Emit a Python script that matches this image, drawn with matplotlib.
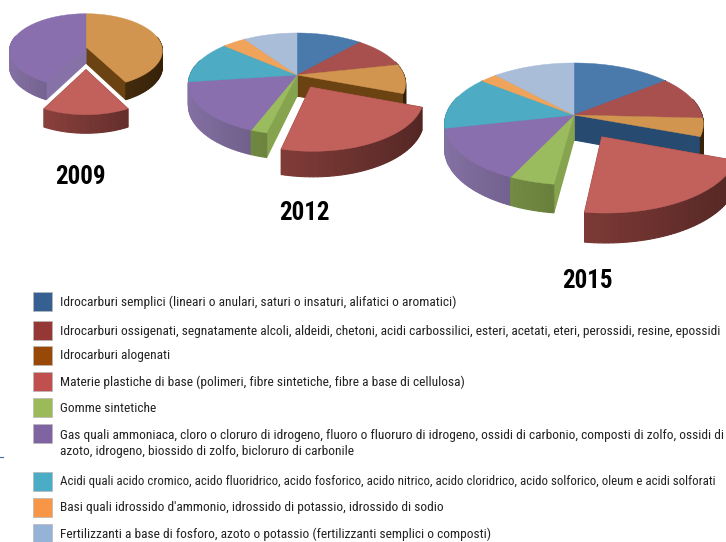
# Shares of chemical groups by year, drawn as three exploded 3D pies with a legend below
import numpy as np
import matplotlib
matplotlib.use('Agg')
import matplotlib.pyplot as plt
from matplotlib.patches import Polygon, Rectangle

plt.rcParams['font.family'] = ['Roboto Condensed', 'Liberation Sans', 'DejaVu Sans']

# Percent shares, same order as the legend
shares_2009 = [0, 0, 42, 16, 0, 42, 0, 0, 0]
shares_2012 = [11.8, 9.9, 8.9, 23.3, 2.1, 16.9, 13.2, 4.2, 9.7]
shares_2015 = [14.4, 11.4, 4.7, 21.7, 5.0, 14.4, 13.9, 2.5, 12.0]

years = ['2009', '2012', '2015']

labels = [
    'Idrocarburi semplici (lineari o anulari, saturi o insaturi, alifatici o aromatici)',
    'Idrocarburi ossigenati, segnatamente alcoli, aldeidi, chetoni, acidi carbossilici, esteri, acetati, eteri, perossidi, resine, epossidi',
    'Idrocarburi alogenati',
    'Materie plastiche di base (polimeri, fibre sintetiche, fibre a base di cellulosa)',
    'Gomme sintetiche',
    'Gas quali ammoniaca, cloro o cloruro di idrogeno, fluoro o fluoruro di idrogeno, ossidi di carbonio, composti di zolfo, ossidi di\nazoto, idrogeno, biossido di zolfo, bicloruro di carbonile',
    'Acidi quali acido cromico, acido fluoridrico, acido fosforico, acido nitrico, acido cloridrico, acido solforico, oleum e acidi solforati',
    "Basi quali idrossido d'ammonio, idrossido di potassio, idrossido di sodio",
    'Fertilizzanti a base di fosforo, azoto o potassio (fertilizzanti semplici o composti)',
]

legend_colors = ['#376092', '#953735', '#984807', '#c0504d', '#9bbb59', '#8064a2', '#4bacc6', '#f79646', '#95b3d7']
top_colors = ['#4a7aab', '#a8504e', '#d2954f', '#c2615c', '#9bbb5f', '#8a6fae', '#4dabc3', '#f0a35a', '#a9bcd8']
side_colors = ['#3a5f88', '#843c3a', '#6b4312', '#a04a45', '#86a34e', '#8672a6', '#3d8fa5', '#c07f3c', '#8496b0']

fig = plt.figure(figsize=(7.26, 5.42), dpi=100)
ax = fig.add_axes([0, 0, 1, 1])
ax.set_xlim(0, 726)
ax.set_ylim(542, 0)
ax.axis('off')


def shade(color, amount):
    rgb = np.array(matplotlib.colors.to_rgb(color))
    return tuple(rgb * amount)


def draw_pie(shares, cx, cy, rx, ry, k, depth, explode, hole_wall=None):
    # k tilts the disc so the front looks bigger than the back
    def project(u, v, drop=0.0):
        scale = 1 + k * v
        return cx + rx * u * scale, cy + ry * v * scale + drop * scale

    fractions = np.array(shares) / sum(shares)
    edges = np.concatenate([[0], np.cumsum(fractions)]) * 2 * np.pi
    base = []
    popped = []
    for i, frac in enumerate(fractions):
        if frac == 0:
            continue
        (popped if i == 3 else base).append((i, edges[i], edges[i + 1]))

    for group, off in ((base, 0.0), (popped, explode)):
        walls = []
        tops = []
        for i, a0, a1 in group:
            mid = (a0 + a1) / 2
            du = off * np.sin(mid)
            dv = -off * np.cos(mid)
            angles = np.linspace(a0, a1, max(int((a1 - a0) / 0.03), 2))
            us = du + np.sin(angles)
            vs = dv - np.cos(angles)

            # rim wall, darker towards the right side
            for j in range(len(angles) - 1):
                if -np.cos(angles[j]) < -0.3:
                    continue
                quad = [project(us[j], vs[j]), project(us[j + 1], vs[j + 1]),
                        project(us[j + 1], vs[j + 1], depth), project(us[j], vs[j], depth)]
                amount = 1.0 - 0.5 * (np.sin(angles[j]) + 1) / 2
                color = shade(side_colors[i], amount)
                walls.append((vs[j], quad, color))

            # flat walls along the two straight cuts
            wall_color = side_colors[i] if hole_wall is None or i != 2 else hole_wall
            for a in (a0, a1):
                eu = du + np.sin(a)
                ev = dv - np.cos(a)
                quad = [project(du, dv), project(eu, ev), project(eu, ev, depth), project(du, dv, depth)]
                walls.append(((dv + ev) / 2, quad, wall_color))

            outline = [project(du, dv)] + [project(p, q) for p, q in zip(us, vs)]
            tops.append((outline, top_colors[i]))

        walls.sort(key=lambda w: w[0])
        for _, quad, color in walls:
            ax.add_patch(Polygon(quad, closed=True, facecolor=color, edgecolor=color, linewidth=0.8))
        for outline, color in tops:
            ax.add_patch(Polygon(outline, closed=True, facecolor=color, edgecolor=color, linewidth=0.3))


draw_pie(shares_2009, 86, 47, 76, 37, 0.10, 16, 0.58)
draw_pie(shares_2012, 297, 75, 107, 51, 0.176, 21, 0.26)
draw_pie(shares_2015, 574, 115, 128, 61, 0.147, 25, 0.40, hole_wall='#264a70')

# Year captions
ax.text(80, 177, years[0], fontsize=18, fontweight='bold', ha='center', va='center')
ax.text(304, 213, years[1], fontsize=18, fontweight='bold', ha='center', va='center')
ax.text(587, 281, years[2], fontsize=18, fontweight='bold', ha='center', va='center')

# Legend rows
row_y = [301, 330, 355, 381, 407, 433, 481, 507, 533]
for y, color, label in zip(row_y, legend_colors, labels):
    ax.add_patch(Rectangle((33, y - 9.5), 19, 19, facecolor=color, edgecolor='#b8b8b8', linewidth=0.5))
    # the acids row runs right up to the page edge, so it gets a slightly smaller size
    size = 9.3 if label.startswith('Acidi') else 9.6
    if '\n' in label:
        first, second = label.split('\n')
        ax.text(60, y + 3, first, fontsize=size, color='#222222', va='center')
        ax.text(60, y + 18, second, fontsize=size, color='#222222', va='center')
    else:
        ax.text(60, y + 1, label, fontsize=size, color='#222222', va='center')

# Small rule stub at the left edge
ax.plot([0, 3], [457, 457], color='#3b6ea5', linewidth=0.8)

fig.savefig('out.png', dpi=100)
